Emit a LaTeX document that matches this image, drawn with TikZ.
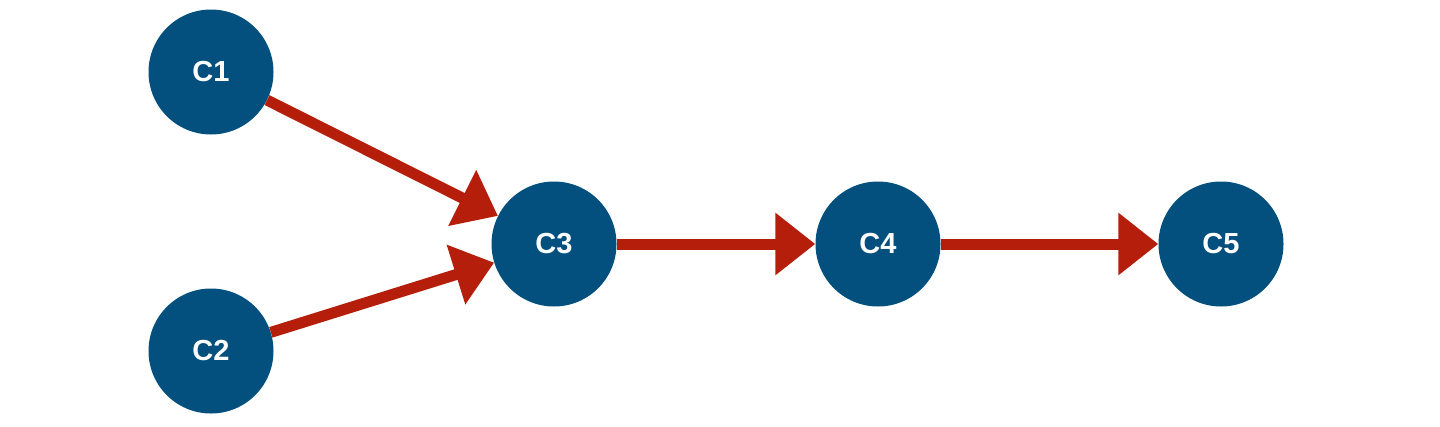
\documentclass[tikz,border=0pt]{standalone}
\usepackage{fontspec}
\setmainfont{Liberation Sans}
\usetikzlibrary{arrows.meta}
\definecolor{nodeblue}{HTML}{03507F}
\definecolor{arrowred}{HTML}{B41E0A}
\begin{document}
\begin{tikzpicture}[x=1pt,y=-1pt,
  cnode/.style={circle,fill=nodeblue,draw=none,minimum size=125pt,inner sep=0pt,
    text=white,font=\fontsize{29}{32}\selectfont\bfseries},
  link/.style={draw=arrowred,line width=11pt,
    -{Triangle[length=40pt,width=60pt]}}]
\useasboundingbox (0,0) rectangle (1440,426);
\fill[white] (0,0) rectangle (1440,426);
\node[cnode] (c1) at (211,72) {C1};
\node[cnode] (c2) at (211,351) {C2};
\node[cnode] (c3) at (554,244) {C3};
\node[cnode] (c4) at (878,244) {C4};
\node[cnode] (c5) at (1221,244) {C5};
\draw[link] (c1) -- (c3);
\draw[link] (c2) -- (c3);
\draw[link] (c3) -- (c4);
\draw[link] (c4) -- (c5);
\end{tikzpicture}
\end{document}
